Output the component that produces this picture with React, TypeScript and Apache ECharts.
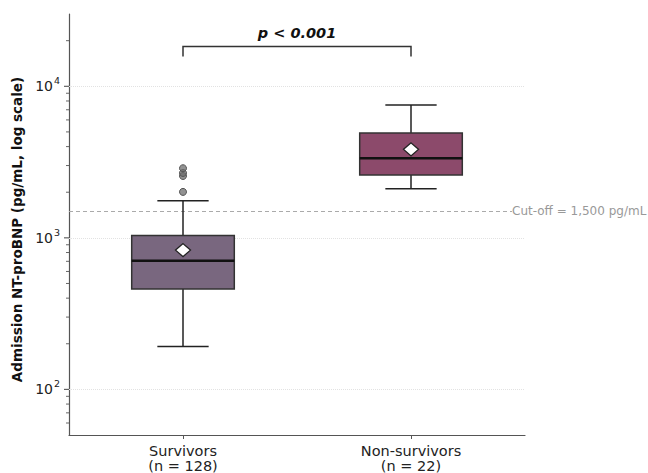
import React, { useEffect, useRef } from "react";
import * as echarts from "echarts";

// Admission NT-proBNP by outcome group (pg/mL)
const groups = ["Survivors", "Non-survivors"];
const groupSizes = [128, 22];
const whiskerLow = [192, 2110];
const q1 = [459, 2600];
const medians = [707, 3356];
const q3 = [1035, 4920];
const whiskerHigh = [1754, 7516];
const means = [830, 3838];
const survivorOutliers = [2010, 2560, 2680, 2880];
const boxColors = ["#79677f", "#8c4a6b"];

const cutOff = 1500;
const cutOffLabel = "Cut-off = 1,500 pg/mL";
const pLabel = "p < 0.001";

// y-axis scale and tick marks
const yMin = 50;
const yMax = 30000;
const decadeTicks = [100, 1000, 10000];
const minorTicks = [
  60, 70, 80, 90, 200, 300, 400, 500, 600, 700, 800, 900, 2000, 3000, 4000,
  5000, 6000, 7000, 8000, 9000, 20000,
];

// significance bracket heights (data units)
const bracketLevel = 18300;
const bracketDrop = 15700;

const FONT = '"DejaVu Sans", "Noto Sans", sans-serif';

export default function App() {
  const ref = useRef<HTMLDivElement>(null);

  useEffect(() => {
    if (!ref.current) return;
    const chart = echarts.init(ref.current, null, { renderer: "svg" });

    const boxData = groups.map((_, i) => [
      i,
      whiskerLow[i],
      q1[i],
      medians[i],
      q3[i],
      whiskerHigh[i],
    ]);

    const tickData = [
      ...decadeTicks.map((v) => [0, v, 1]),
      ...minorTicks.map((v) => [0, v, 0]),
    ];

    const option: any = {
      animation: false,
      backgroundColor: "#ffffff",
      textStyle: { fontFamily: FONT },
      grid: { left: 69, right: 123, top: 14, bottom: 35 },
      xAxis: {
        type: "category",
        data: groups.map((g, i) => `${g}\n(n = ${groupSizes[i]})`),
        boundaryGap: true,
        axisLine: { show: true, lineStyle: { color: "#555", width: 1.2 } },
        axisTick: {
          show: true,
          alignWithLabel: true,
          length: 4,
          lineStyle: { color: "#555", width: 1 },
        },
        axisLabel: {
          color: "#222",
          fontSize: 14.5,
          lineHeight: 15,
          margin: 8,
          fontFamily: FONT,
        },
        splitLine: { show: false },
      },
      yAxis: {
        type: "log",
        logBase: 10,
        min: yMin,
        max: yMax,
        name: "Admission NT-proBNP (pg/mL, log scale)",
        nameLocation: "middle",
        nameGap: 43,
        nameTextStyle: {
          fontWeight: "bold",
          fontSize: 13.5,
          color: "#111",
          fontFamily: FONT,
          padding: [0, 10, 0, 0],
        },
        axisLine: { show: true, lineStyle: { color: "#555", width: 1.2 } },
        axisTick: { show: false },
        splitLine: { show: false },
        minorTick: { show: false },
        axisLabel: {
          margin: 9,
          color: "#222",
          showMinLabel: false,
          showMaxLabel: false,
          formatter: (v: number) => {
            const e = Math.log10(v);
            if (Math.abs(e - Math.round(e)) > 1e-6) return "";
            return `{b|10}{s|${Math.round(e)}}`;
          },
          rich: {
            b: { fontSize: 14, color: "#222", fontFamily: FONT },
            s: {
              fontSize: 9.5,
              color: "#222",
              fontFamily: FONT,
              padding: [0, 0, 11, 1],
            },
          },
        },
      },
      series: [
        // decade gridlines and the cut-off reference line, kept beneath the boxes
        {
          type: "line",
          data: [],
          silent: true,
          z: 1,
          markLine: {
            silent: true,
            symbol: "none",
            animation: false,
            z: 1,
            data: [
              ...decadeTicks.map((v) => ({
                yAxis: v,
                lineStyle: { color: "#e2e2e2", type: "dotted", width: 1 },
                label: { show: false },
              })),
              {
                yAxis: cutOff,
                lineStyle: { color: "#aaaaaa", type: [4, 3], width: 1 },
                label: {
                  show: true,
                  position: "end",
                  distance: -13,
                  formatter: cutOffLabel,
                  color: "#999",
                  fontSize: 12,
                  fontFamily: FONT,
                  backgroundColor: "#ffffff",
                  padding: [1, 0, 1, 0],
                },
              },
            ],
          },
        },
        // y-axis tick marks (major at decades, minor in between)
        {
          type: "custom",
          clip: false,
          silent: true,
          data: tickData,
          renderItem: (params: any, api: any) => {
            const y = api.coord([0, api.value(1)])[1];
            const x0 = params.coordSys.x;
            const len = api.value(2) ? 5 : 3;
            return {
              type: "line",
              shape: { x1: x0, y1: y, x2: x0 - len, y2: y },
              style: { stroke: "#555", lineWidth: api.value(2) ? 1.1 : 0.9 },
            };
          },
          z: 3,
        },
        // box-and-whisker per group
        {
          type: "custom",
          silent: true,
          data: boxData,
          renderItem: (params: any, api: any) => {
            const idx = api.value(0);
            const band = params.coordSys.width / groups.length;
            const bw = band * 0.45;
            const cx = api.coord([idx, api.value(3)])[0];
            const yLow = api.coord([idx, api.value(1)])[1];
            const yQ1 = api.coord([idx, api.value(2)])[1];
            const yMed = api.coord([idx, api.value(3)])[1];
            const yQ3 = api.coord([idx, api.value(4)])[1];
            const yHigh = api.coord([idx, api.value(5)])[1];
            const stroke = { stroke: "#222", lineWidth: 1.5 };
            return {
              type: "group",
              children: [
                {
                  type: "line",
                  shape: { x1: cx, y1: yQ1, x2: cx, y2: yLow },
                  style: stroke,
                },
                {
                  type: "line",
                  shape: { x1: cx, y1: yQ3, x2: cx, y2: yHigh },
                  style: stroke,
                },
                {
                  type: "line",
                  shape: { x1: cx - bw / 4, y1: yLow, x2: cx + bw / 4, y2: yLow },
                  style: stroke,
                },
                {
                  type: "line",
                  shape: { x1: cx - bw / 4, y1: yHigh, x2: cx + bw / 4, y2: yHigh },
                  style: stroke,
                },
                {
                  type: "rect",
                  shape: { x: cx - bw / 2, y: yQ3, width: bw, height: yQ1 - yQ3 },
                  style: {
                    fill: boxColors[idx],
                    stroke: "#333",
                    lineWidth: 1.5,
                  },
                },
                {
                  type: "line",
                  shape: { x1: cx - bw / 2, y1: yMed, x2: cx + bw / 2, y2: yMed },
                  style: { stroke: "#111", lineWidth: 2.5 },
                },
              ],
            };
          },
          z: 4,
        },
        // outliers
        {
          type: "scatter",
          silent: true,
          data: survivorOutliers.map((v) => [0, v]),
          symbol: "circle",
          symbolSize: 7,
          itemStyle: {
            color: "rgba(110,110,110,0.75)",
            borderColor: "#555",
            borderWidth: 1,
            opacity: 1,
          },
          z: 5,
        },
        // group means
        {
          type: "scatter",
          silent: true,
          data: means.map((v, i) => [i, v]),
          symbol: "diamond",
          symbolSize: [15, 13],
          itemStyle: {
            color: "#ffffff",
            borderColor: "#222",
            borderWidth: 1.3,
            opacity: 1,
          },
          z: 6,
        },
        // significance bracket
        {
          type: "custom",
          clip: false,
          silent: true,
          data: [[0, bracketLevel]],
          renderItem: (params: any, api: any) => {
            const top = api.coord([0, bracketLevel]);
            const drop = api.coord([0, bracketDrop])[1];
            const right = api.coord([1, bracketLevel])[0];
            const left = top[0];
            const yTop = top[1];
            return {
              type: "group",
              children: [
                {
                  type: "polyline",
                  shape: {
                    points: [
                      [left, drop],
                      [left, yTop],
                      [right, yTop],
                      [right, drop],
                    ],
                  },
                  style: { stroke: "#333", lineWidth: 1.5, fill: "none" },
                },
                {
                  type: "text",
                  style: {
                    text: pLabel,
                    x: (left + right) / 2,
                    y: yTop - 6,
                    align: "center",
                    verticalAlign: "bottom",
                    font: `italic bold 14.5px ${FONT}`,
                    fill: "#111",
                  },
                },
              ],
            };
          },
          z: 6,
        },
      ],
    };

    chart.setOption(option);
    return () => chart.dispose();
  }, []);

  return (
    <div
      ref={ref}
      style={{
        position: "fixed",
        left: 0,
        top: 0,
        width: 648,
        height: 473,
        background: "#fff",
      }}
    />
  );
}
